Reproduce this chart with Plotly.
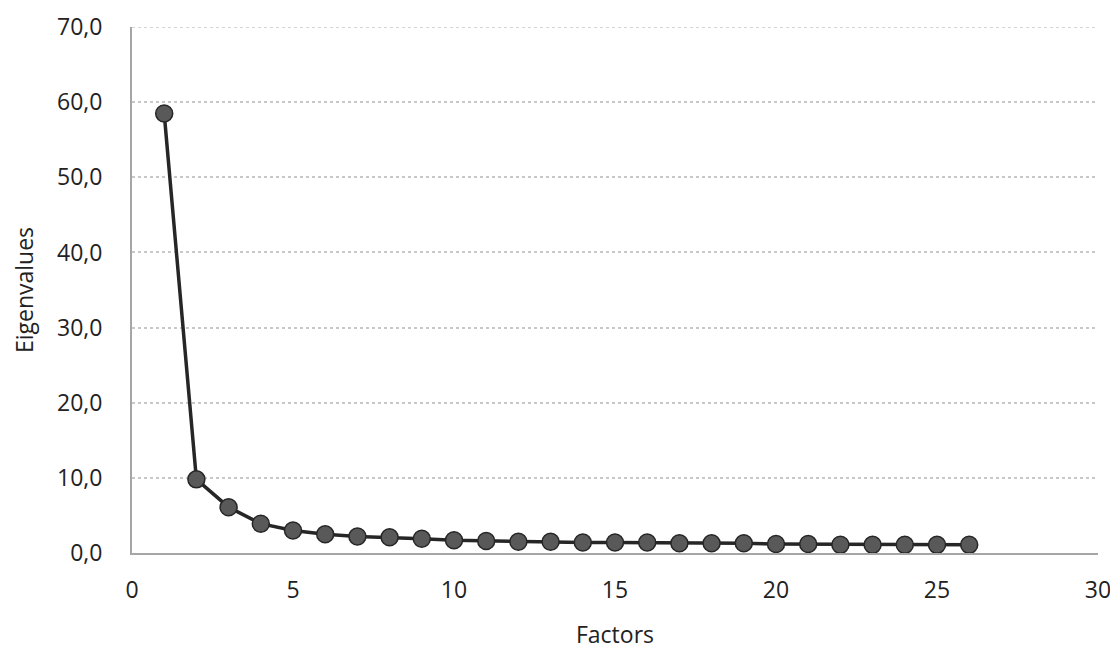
import plotly.graph_objects as go

factors = list(range(1, 27))
eigenvalues = [58.5, 9.8, 6.1, 3.9, 3.0, 2.5, 2.2, 2.1, 1.9, 1.7,
               1.6, 1.5, 1.5, 1.4, 1.4, 1.4, 1.3, 1.3, 1.3, 1.2,
               1.2, 1.1, 1.1, 1.1, 1.1, 1.1]

fig = go.Figure(go.Scatter(
    x=factors, y=eigenvalues, mode="lines+markers",
    line=dict(color="#262626", width=3.5),
    marker=dict(size=17, color="#595959", line=dict(color="#262626", width=1.5)),
))

font = dict(family="Open Sans, DejaVu Sans, sans-serif", size=23, color="#222222")
fig.update_layout(
    width=1118, height=657,
    margin=dict(l=124, r=28, t=19, b=112, autoexpand=False),
    paper_bgcolor="white", plot_bgcolor="white",
    separators=",.",
    showlegend=False,
    font=font,
    xaxis=dict(range=[0, 30], tick0=0, dtick=5, showgrid=False,
               showline=True, linecolor="#a6a6a6", linewidth=2,
               ticks="", zeroline=False, automargin=False, ticklabelstandoff=15,
               ticklabeloverflow="allow",
               title=dict(text="Factors", standoff=23, font=font)),
    yaxis=dict(range=[0, 70.01], tick0=0, dtick=10, tickformat=".1f",
               showgrid=True, gridcolor="#c8c8c8", griddash="dot", gridwidth=1.5,
               showline=True, linecolor="#a6a6a6", linewidth=2,
               ticks="", zeroline=False, ticklabelstandoff=23, automargin=False,
               ticklabeloverflow="allow",
               title=dict(text="Eigenvalues", standoff=20, font=font)),
    shapes=[dict(type="line", xref="paper", yref="y", x0=0, x1=1, y0=70, y1=70,
                 line=dict(color="#c8c8c8", width=1.5, dash="dot"), layer="below")],
)

fig.write_html("out.html")
